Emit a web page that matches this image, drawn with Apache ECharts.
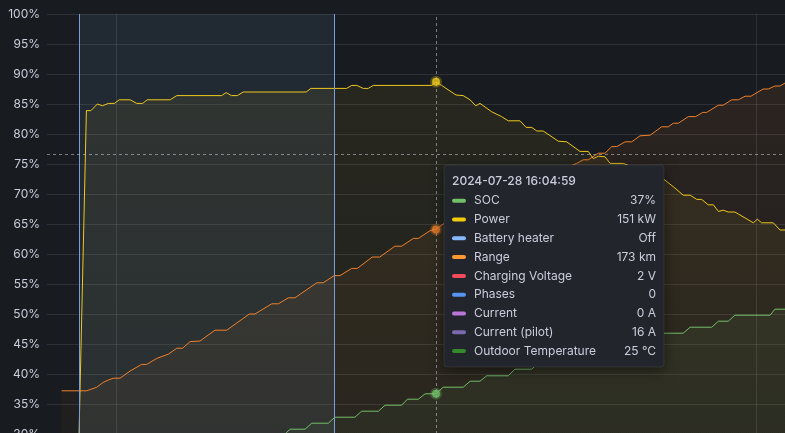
<!DOCTYPE html>
<html>
<head>
<meta charset="utf-8">
<script src="https://cdn.jsdelivr.net/npm/echarts@6/dist/echarts.min.js"></script>
<style>
html,body{margin:0;padding:0;background:#181b1f;}
#chart{width:785px;height:433px;}
</style>
</head>
<body>
<div id="chart"></div>
<script>
// Time in minutes of the day; values in % of the shown axis.
const yTicks = [30, 100, 5];
const gridTimes = [840, 1080];
const heaterOn = [826.3, 921.9];
const crossT = 960;
const crossV = 76.7;

const powerSeries = [
  [819.8,0],[824.6,0],[828.9,83.9],[830.6,83.9],[833.0,85.0],[834.9,84.7],[837.1,85.1],[839.4,85.1],
  [841.2,85.7],[845.3,85.7],[847.8,85.1],[850.0,85.1],[851.7,85.7],[860.3,85.7],[862.8,86.4],[879.6,86.4],
  [881.3,86.9],[883.3,86.4],[885.5,86.4],[887.7,87.0],[911.3,87.0],[913.1,87.6],[926.5,87.6],[928.4,88.1],
  [930.3,88.1],[932.7,87.6],[934.6,87.6],[936.5,88.1],[958.4,88.1],[960.0,88.7],[962.1,88.1],[967.5,86.5],
  [970.2,86.4],[972.8,85.7],[974.9,84.7],[976.5,85.1],[978.4,84.5],[980.9,83.7],[984.6,82.9],[987.1,82.2],
  [991.5,82.2],[993.8,81.1],[995.9,81.1],[997.8,80.5],[1000.2,80.5],[1005.9,78.8],[1009.0,78.7],[1014.0,77.1],
  [1017.1,77.1],[1019.0,75.9],[1020.9,76.3],[1023.4,76.2],[1025.3,75.1],[1030.2,75.1],[1036.5,74.0],[1042.1,73.2],
  [1045.9,72.3],[1049.6,71.0],[1052.7,69.8],[1055.3,69.8],[1057.8,69.1],[1059.6,69.1],[1062.1,68.2],[1064.0,68.2],
  [1065.9,67.1],[1067.7,67.3],[1069.6,67.0],[1072.1,67.0],[1079.0,65.2],[1080.5,65.8],[1082.1,65.2],[1086.5,65.2],
  [1089.0,64.0],[1092.8,64.0]
];

const rangeSeries = [
  [819.6,37.2],[829.0,37.2],[832.8,37.8],[835.2,38.6],[837.1,39.0],[839.0,39.3],[841.5,39.3],[845.3,40.5],
  [849.6,41.6],[851.5,41.6],[855.3,42.6],[859.6,43.3],[862.8,44.3],[865.0,44.3],[867.8,45.4],[871.5,45.5],
  [877.1,47.3],[881.5,47.3],[890.0,50.0],[892.1,50.0],[898.4,51.7],[900.9,51.7],[904.6,52.7],[907.1,52.7],
  [915.3,55.2],[917.7,55.2],[921.8,56.4],[924.0,56.4],[928.4,57.6],[930.5,57.6],[936.1,59.5],[938.9,59.5],
  [944.6,61.3],[947.1,61.3],[951.5,62.6],[953.4,62.6],[957.8,63.9],[960.0,64.1],[962.7,65.0],[969.0,66.3],
  [976.5,67.9],[984.0,69.5],[991.5,71.0],[999.0,72.5],[1006.5,74.0],[1012.8,75.1],[1015.2,75.7],[1017.1,75.7],
  [1020.9,76.8],[1023.4,76.8],[1025.9,77.9],[1027.8,77.9],[1030.9,78.7],[1033.4,78.7],[1036.5,79.7],[1040.3,79.8],
  [1044.6,81.2],[1047.1,81.2],[1049.0,81.8],[1050.9,81.8],[1054.6,82.9],[1057.4,82.9],[1060.0,83.6],[1061.5,83.6],
  [1065.9,84.8],[1067.7,84.8],[1070.9,85.7],[1073.4,85.7],[1075.9,86.3],[1078.1,86.3],[1082.7,87.5],[1084.6,87.5],
  [1087.1,88.0],[1089.0,88.0],[1092.8,89.0]
];

const socSeries = [
  [819.8,20.0],[852.8,24.0],[882.8,28.0],[902.3,29.2],[903.8,30.2],[905.3,30.8],[910.9,30.8],[913.4,31.8],
  [919.6,31.8],[922.1,32.8],[929.6,32.8],[932.1,33.8],[938.4,33.8],[940.9,34.8],[947.1,34.8],[949.3,35.8],
  [953.4,35.8],[955.9,36.7],[960.0,36.7],[962.7,37.8],[970.2,37.8],[972.8,38.8],[976.5,38.8],[979.0,39.7],
  [987.1,39.7],[989.6,40.8],[995.9,40.8],[998.3,41.8],[1006.5,41.8],[1009.1,42.8],[1017.8,42.8],[1020.4,43.8],
  [1028.3,43.8],[1030.9,44.8],[1036.5,44.8],[1039.1,45.8],[1042.9,45.8],[1045.2,46.8],[1052.7,46.8],[1055.3,47.8],
  [1063.4,47.8],[1065.9,48.8],[1069.6,48.8],[1072.1,49.8],[1085.3,49.8],[1087.1,50.8],[1092.8,50.8]
];

const tipTitle = '2024-07-28 16:04:59';
const tipNames = ['SOC','Power','Battery heater','Range','Charging Voltage','Phases','Current','Current (pilot)','Outdoor Temperature'];
const tipValues = ['37%','151 kW','Off','173 km','2 V','0','0 A','16 A','25 °C'];
const tipColors = ['#73BF69','#F2CC0C','#8AB8FF','#FF9830','#F2495C','#5794F2','#B877D9','#7B68AE','#37872D'];

const C_SOC = '#73BF69', C_POWER = '#EDC81C', C_RANGE = '#F0802A', C_HEATER = '#8AB8FF';
const TEXT = '#ccccdc';
const FONT = 'Inter, "Noto Sans", sans-serif';

function grad(color, a1, a2) {
  const hex = color.replace('#','');
  const r = parseInt(hex.slice(0,2),16), g = parseInt(hex.slice(2,4),16), b = parseInt(hex.slice(4,6),16);
  return {type:'linear', x:0, y:0, x2:0, y2:1, colorStops:[
    {offset:0, color:`rgba(${r},${g},${b},${a1})`},
    {offset:1, color:`rgba(${r},${g},${b},${a2})`}
  ]};
}
function rgba(color, a) {
  const hex = color.replace('#','');
  return `rgba(${parseInt(hex.slice(0,2),16)},${parseInt(hex.slice(2,4),16)},${parseInt(hex.slice(4,6),16)},${a})`;
}
function at(series, t) { const p = series.find(d => d[0] === t); return p ? p[1] : null; }

const tMin = 814.125, tMax = 1090.875;

const hoverPts = [
  {value:[crossT, at(powerSeries, crossT)], c:C_POWER},
  {value:[crossT, at(rangeSeries, crossT)], c:C_RANGE},
  {value:[crossT, at(socSeries, crossT)], c:C_SOC}
].map(p => ({value:p.value, itemStyle:{color:p.c, borderColor:rgba(p.c,0.35), borderWidth:4}}));

const graphics = [];
const bx = 444, by = 165, bw = 220, bh = 202;
graphics.push({type:'rect', x:bx, y:by, z:100, shape:{x:0,y:0,width:bw,height:bh,r:3},
  style:{fill:'#22252b', stroke:'rgba(204,204,220,0.10)', lineWidth:1, shadowBlur:14, shadowColor:'rgba(0,0,0,0.5)', shadowOffsetY:3}});
graphics.push({type:'text', x:bx+8, y:by+16, z:101, style:{text:tipTitle, fill:TEXT, font:'500 12px ' + FONT, align:'left', verticalAlign:'middle'}});
tipNames.forEach((n,i) => {
  const ry = by + 35.7 + i*18.8;
  graphics.push({type:'rect', x:bx+8, y:ry-2, z:101, shape:{x:0,y:0,width:14,height:4,r:2}, style:{fill:tipColors[i]}});
  graphics.push({type:'text', x:bx+30, y:ry, z:101, style:{text:n, fill:TEXT, font:'12px ' + FONT, align:'left', verticalAlign:'middle'}});
  graphics.push({type:'text', x:bx+212, y:ry, z:101, style:{text:tipValues[i], fill:TEXT, font:'12px ' + FONT, align:'right', verticalAlign:'middle'}});
});

const chart = echarts.init(document.getElementById('chart'), null, {renderer:'canvas'});
chart.setOption({
  backgroundColor:'#181b1f',
  animation:false,
  grid:{left:47, right:0, top:14, height:420, containLabel:false, outerBoundsMode:'none'},
  xAxis:{type:'value', min:tMin, max:tMax, axisLine:{show:false}, axisTick:{show:false}, axisLabel:{show:false}, splitLine:{show:false}},
  yAxis:{type:'value', min:yTicks[0], max:yTicks[1], interval:yTicks[2],
    axisLine:{show:false}, axisTick:{show:false},
    axisLabel:{formatter:'{value}%', color:TEXT, fontFamily:FONT, fontSize:12, margin:7},
    splitLine:{lineStyle:{color:'rgba(204,204,220,0.12)', width:1}}},
  series:[
    {type:'line', name:'Battery heater', data:[], silent:true,
      markArea:{silent:true, itemStyle:{color:'rgba(138,184,255,0.09)'}, data:[[{xAxis:heaterOn[0]},{xAxis:heaterOn[1]}]]},
      markLine:{silent:true, symbol:'none', label:{show:false},
        data:[
          {xAxis:gridTimes[0], lineStyle:{color:'rgba(204,204,220,0.12)', type:'solid', width:1}},
          {xAxis:gridTimes[1], lineStyle:{color:'rgba(204,204,220,0.12)', type:'solid', width:1}},
          {xAxis:heaterOn[0], lineStyle:{color:'#7C9ED6', type:'solid', width:1}},
          {xAxis:heaterOn[1], lineStyle:{color:'#7C9ED6', type:'solid', width:1}}
        ]}},
    {type:'line', name:'Range', data:rangeSeries, showSymbol:false, lineStyle:{color:C_RANGE, width:1}, itemStyle:{color:C_RANGE},
      areaStyle:{color:grad(C_RANGE,0.13,0.05)}},
    {type:'line', name:'Power', data:powerSeries, showSymbol:false, lineStyle:{color:C_POWER, width:1}, itemStyle:{color:C_POWER},
      areaStyle:{color:grad(C_POWER,0.10,0.04)}},
    {type:'line', name:'SOC', data:socSeries, showSymbol:false, lineStyle:{color:C_SOC, width:1}, itemStyle:{color:C_SOC},
      areaStyle:{color:grad(C_SOC,0.10,0.05)}},
    {type:'line', name:'crosshair', data:[], silent:true,
      markLine:{silent:true, symbol:'none', label:{show:false},
        lineStyle:{color:'rgba(204,204,220,0.55)', type:[3,3], width:1},
        data:[{xAxis:crossT},{yAxis:crossV}]}},
    {type:'scatter', name:'hover', data:hoverPts, symbolSize:8, z:10, silent:true}
  ],
  graphic:graphics
});
</script>
</body>
</html>
